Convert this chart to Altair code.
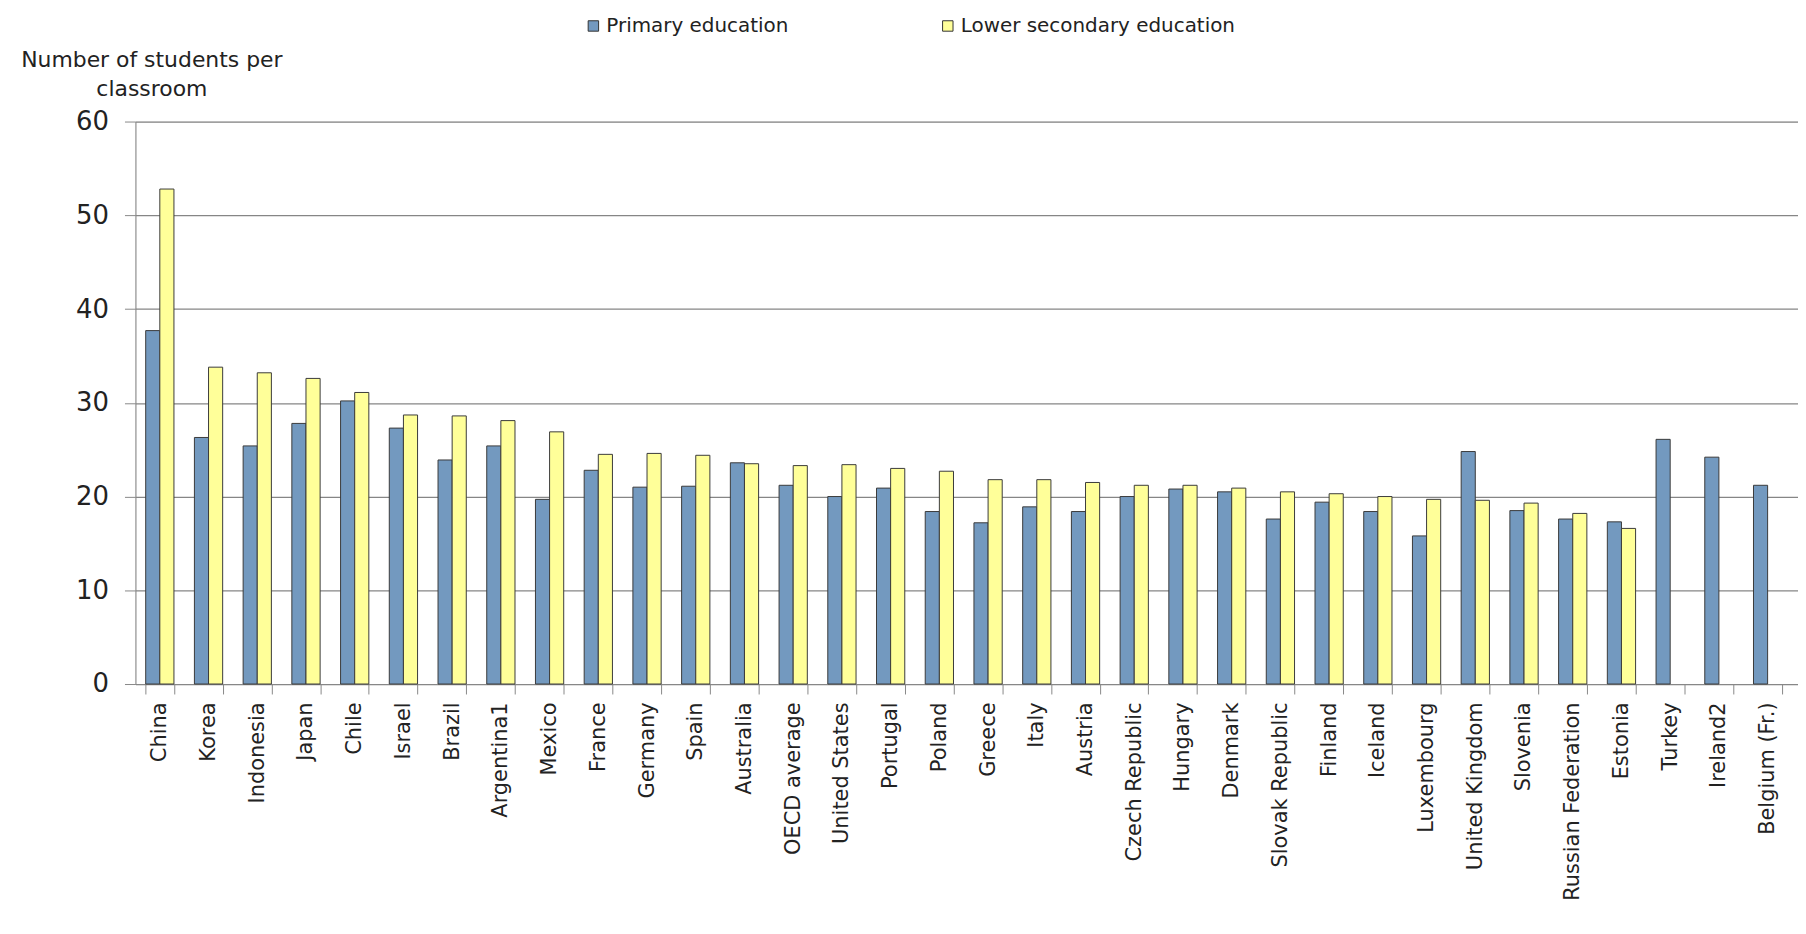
import altair as alt
import pandas as pd

countries = ["China", "Korea", "Indonesia", "Japan", "Chile", "Israel", "Brazil",
             "Argentina1", "Mexico", "France", "Germany", "Spain", "Australia",
             "OECD average", "United States", "Portugal", "Poland", "Greece", "Italy",
             "Austria", "Czech Republic", "Hungary", "Denmark", "Slovak Republic",
             "Finland", "Iceland", "Luxembourg", "United Kingdom", "Slovenia",
             "Russian Federation", "Estonia", "Turkey", "Ireland2", "Belgium (Fr.)"]
primary = [37.7, 26.3, 25.4, 27.8, 30.2, 27.3, 23.9, 25.4, 19.7, 22.8, 21.0, 21.1,
           23.6, 21.2, 20.0, 20.9, 18.4, 17.2, 18.9, 18.4, 20.0, 20.8, 20.5, 17.6,
           19.4, 18.4, 15.8, 24.8, 18.5, 17.6, 17.3, 26.1, 24.2, 21.2]
lower_secondary = [52.8, 33.8, 33.2, 32.6, 31.1, 28.7, 28.6, 28.1, 26.9, 24.5, 24.6,
                   24.4, 23.5, 23.3, 23.4, 23.0, 22.7, 21.8, 21.8, 21.5, 21.2, 21.2,
                   20.9, 20.5, 20.3, 20.0, 19.7, 19.6, 19.3, 18.2, 16.6, None, None, None]
series = ["Primary education", "Lower secondary education"]
colors = ["#7399BF", "#FFFF99"]

rows = []
for i, c in enumerate(countries):
    rows.append({"country": c, "level": series[0], "value": primary[i], "order": 0})
    rows.append({"country": c, "level": series[1], "value": lower_secondary[i], "order": 1})
df = pd.DataFrame(rows)

FONT = "DejaVu Sans"

chart = alt.Chart(df).mark_bar(stroke="#3a3a3a", strokeWidth=1).encode(
    x=alt.X("country:N", sort=countries,
            scale=alt.Scale(paddingInner=0.42, paddingOuter=0.272, align=0.387),
            axis=alt.Axis(title=None, labelAngle=-90, labelFontSize=21, labelFont=FONT,
                          labelColor="#222", tickBand="extent", tickSize=10,
                          tickColor="#888", domainColor="#888", labelPadding=8,
                          labelBaseline="middle", labelAlign="right", labelLimit=400)),
    xOffset=alt.XOffset("level:N", sort=series, scale=alt.Scale(paddingInner=0)),
    y=alt.Y("value:Q", scale=alt.Scale(domain=[0, 60], nice=False),
            axis=alt.Axis(values=[0, 10, 20, 30, 40, 50, 60],
                          title=["Number of students per", "classroom"],
                          titleAngle=0, titleAlign="center", titleBaseline="alphabetic",
                          titleX=16, titleY=-55, titleFontSize=22, titleFontWeight="normal",
                          titleFont=FONT, titleColor="#222", titleLineHeight=29,
                          labelFontSize=26, labelFont=FONT, labelColor="#222",
                          tickSize=11, tickColor="#888", domainColor="#888",
                          gridColor="#868686", gridWidth=1.2, labelPadding=16)),
    color=alt.Color("level:N", sort=series,
                    scale=alt.Scale(domain=series, range=colors),
                    legend=alt.Legend(title=None, orient="none", direction="horizontal",
                                      legendX=450, legendY=-106, symbolType="square",
                                      symbolSize=110, symbolStrokeColor="#333",
                                      symbolStrokeWidth=1, labelFontSize=20,
                                      labelFont=FONT, labelColor="#222", labelLimit=500,
                                      columnPadding=150, labelOffset=3)),
    order=alt.Order("order:Q"),
).properties(
    width=1670, height=565,
    padding={"left": 128, "top": 112, "right": 0, "bottom": 241},
    autosize=alt.AutoSizeParams(type="none"),
).configure_view(fill="#C0C0C0", stroke=None).configure(background="white")

chart.save("out.html", embed_options={"renderer": "svg", "actions": False})
